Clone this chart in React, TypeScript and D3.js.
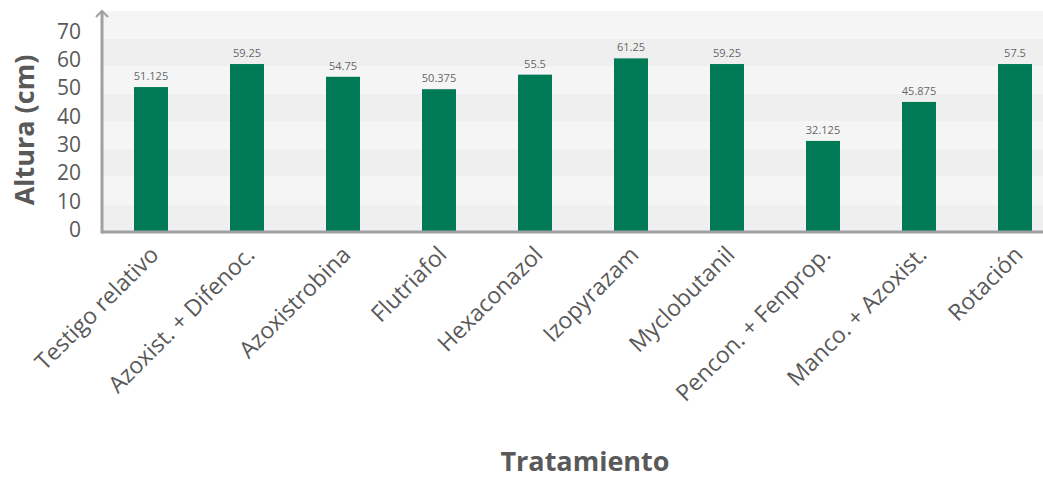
import React from "react";
import * as d3 from "d3";

const categories = [
  "Testigo relativo",
  "Azoxist. + Difenoc.",
  "Azoxistrobina",
  "Flutriafol",
  "Hexaconazol",
  "Izopyrazam",
  "Myclobutanil",
  "Pencon. + Fenprop.",
  "Manco. + Azoxist.",
  "Rotación",
];
// bar heights as drawn in the reference
const barValues = [51.125, 59.25, 54.75, 50.375, 55.5, 61.25, 59.25, 32.125, 45.875, 59.25];
// data labels as printed in the reference
const valueLabels = ["51.125", "59.25", "54.75", "50.375", "55.5", "61.25", "59.25", "32.125", "45.875", "57.5"];
const yTicks = [0, 10, 20, 30, 40, 50, 60, 70];
const bandSteps = [0, 1, 2, 3, 4, 5, 6, 7];

const W = 1043;
const H = 478;
const x0 = 103;
const yBase = 232;
const plotTop = 11;
const font = "'Segoe UI', 'Open Sans', sans-serif";
const textColor = "#595959";

export default function App() {
  const x = d3
    .scaleBand<string>()
    .domain(categories)
    .range([x0, x0 + 960])
    .paddingInner(0.646)
    .paddingOuter(0.323);
  const y = d3.scaleLinear().domain([0, 80]).range([yBase, yBase - 80 * 2.835]);
  const yb = d3.scaleLinear().domain([0, 8]).range([yBase, plotTop]);

  return (
    <svg
      width={W}
      height={H}
      style={{ position: "absolute", left: 0, top: 0, fontFamily: font }}
    >
      <rect x={0} y={0} width={W} height={H} fill="#ffffff" />
      {bandSteps.map((i) => (
        <rect
          key={i}
          x={x0}
          y={yb(i + 1)}
          width={W - x0}
          height={yb(i) - yb(i + 1)}
          fill={i % 2 === 0 ? "#efefef" : "#f5f5f5"}
        />
      ))}
      {categories.map((c, i) => (
        <g key={c}>
          <rect
            x={x(c)}
            y={y(barValues[i])}
            width={x.bandwidth()}
            height={yBase - y(barValues[i])}
            fill="#007a55"
          />
          <text
            x={(x(c) as number) + x.bandwidth() / 2}
            y={y(barValues[i]) - 7}
            textAnchor="middle"
            fontSize={11}
            fill="#666"
          >
            {valueLabels[i]}
          </text>
          <text
            transform={`translate(${(x(c) as number) + x.bandwidth() / 2 - 5},${yBase + 10}) rotate(-45)`}
            textAnchor="end"
            fontSize={23}
            fill={textColor}
            dominantBaseline="hanging"
          >
            {c}
          </text>
        </g>
      ))}
      {yTicks.map((t) => (
        <text
          key={t}
          x={81}
          y={y(t) - 3}
          textAnchor="end"
          dominantBaseline="central"
          fontSize={21}
          fill={textColor}
        >
          {t}
        </text>
      ))}
      <line x1={102} x2={W} y1={yBase} y2={yBase} stroke="#a0a0a0" strokeWidth={3} />
      <line x1={102} x2={102} y1={yBase + 1.5} y2={11} stroke="#a0a0a0" strokeWidth={3} />
      <path d="M96,17 L102,11 L108,17" fill="none" stroke="#a0a0a0" strokeWidth={2} />
      <text
        transform={`translate(34,130) rotate(-90)`}
        textAnchor="middle"
        fontSize={27}
        fontWeight="bold"
        fill={textColor}
      >
        Altura (cm)
      </text>
      <text x={585} y={471} textAnchor="middle" fontSize={27} fontWeight="bold" fill={textColor}>
        Tratamiento
      </text>
    </svg>
  );
}
